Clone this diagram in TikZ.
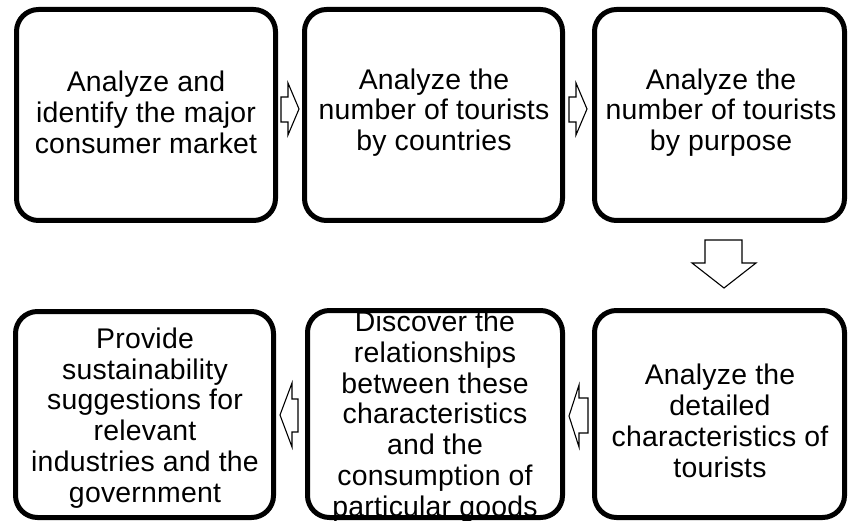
\documentclass[tikz,border=0pt]{standalone}
\usepackage{fontspec}
\setmainfont[LetterSpace=0.8]{Liberation Sans}
\begin{document}
\begin{tikzpicture}[x=1pt,y=-1pt,
  box/.style={draw=black,line width=5pt,rounded corners=22pt,fill=white,inner sep=0pt},
  txt/.style={align=center,inner sep=0pt,font=\fontsize{28.4}{30.8}\selectfont},
  blockarrow/.style={draw=black,line width=1.1pt,fill=white,line join=miter}]
\fill[white] (0,0) rectangle (848,521);
\useasboundingbox (0,0) rectangle (848,521);
\node[box,minimum width=259pt,minimum height=211pt] (b1) at (146,115) {};
\node[box,minimum width=258pt,minimum height=211pt] (b2) at (433.5,115) {};
\node[box,minimum width=250pt,minimum height=211pt] (b3) at (719.5,115) {};
\node[box,minimum width=258pt,minimum height=206pt] (b4) at (144.5,414.5) {};
\node[box,minimum width=255pt,minimum height=207pt] (b5) at (435,414) {};
\node[box,minimum width=250pt,minimum height=207pt] (b6) at (719.5,414) {};
\node[txt] (t1) at (146,112.5) {Analyze and\\identify the major\\consumer market};
\node[txt] (t2) at (434,112.5) {Analyze the\\number of tourists\\by countries};
\node[txt] (t3) at (721,112.5) {Analyze the\\number of tourists\\by purpose};
\node[txt] (t4) at (145,418) {Provide\\sustainability\\suggestions for\\relevant\\industries and the\\government};
\node[txt] (t5) at (435,416.5) {Discover the\\relationships\\between these\\characteristics\\and the\\consumption of\\particular goods};
\node[txt] (t6) at (720,421) {Analyze the\\detailed\\characteristics of\\tourists};
% block arrows
\draw[blockarrow] (281,97) -- (288,97) -- (288,83) -- (299,109) -- (288,135) -- (288,122) -- (281,122) -- cycle;
\draw[blockarrow] (569,97) -- (576,97) -- (576,83) -- (587,109) -- (576,135) -- (576,122) -- (569,122) -- cycle;
\draw[blockarrow] (705,240) -- (742,240) -- (742,263) -- (756,263) -- (724,288) -- (692,263) -- (705,263) -- cycle;
\draw[blockarrow] (298,399) -- (292,399) -- (292,383) -- (280,415) -- (292,447) -- (292,432) -- (298,432) -- cycle;
\draw[blockarrow] (588,398) -- (579,398) -- (579,385) -- (569,416) -- (579,447) -- (579,433) -- (588,433) -- cycle;
\end{tikzpicture}
\end{document}
